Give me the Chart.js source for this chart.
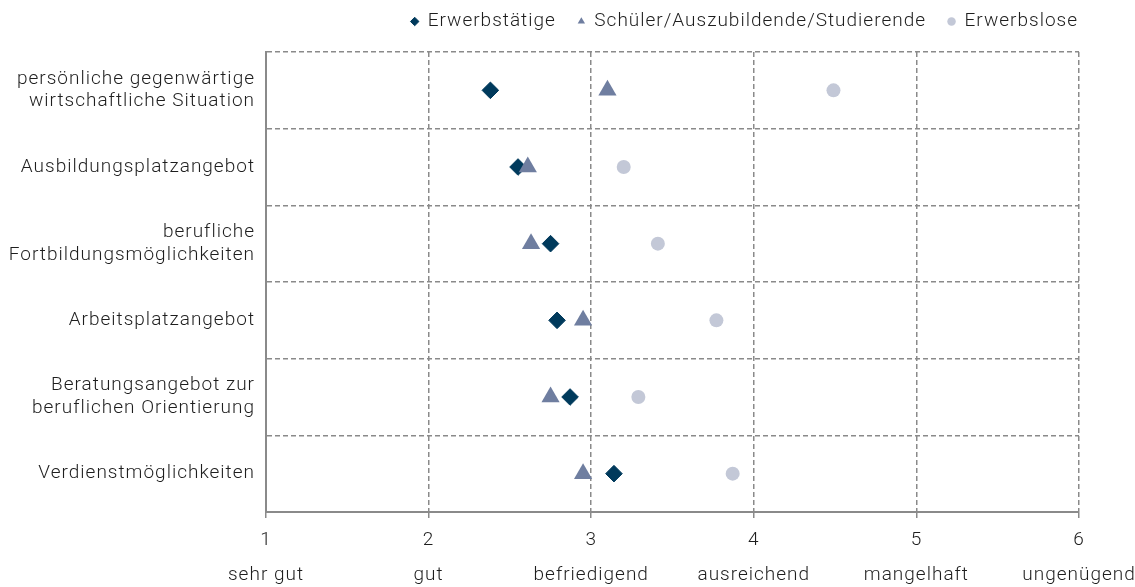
<!DOCTYPE html>
<html lang="de">
<head>
<meta charset="utf-8">
<title>Bewertung nach Erwerbsstatus</title>
<script src="https://cdn.jsdelivr.net/npm/chart.js@4/dist/chart.umd.min.js"></script>
<style>
  html, body { margin: 0; padding: 0; background: #fff; }
  #wrap { width: 1135px; height: 587px; position: relative; }
</style>
</head>
<body>
<div id="wrap"><canvas id="gradeChart"></canvas></div>
<script>
// Kategorien (y-Achse), mehrzeilige Beschriftungen als Arrays
const categories = [
  ['persönliche gegenwärtige', 'wirtschaftliche Situation'],
  'Ausbildungsplatzangebot',
  ['berufliche', 'Fortbildungsmöglichkeiten'],
  'Arbeitsplatzangebot',
  ['Beratungsangebot zur', 'beruflichen Orientierung'],
  'Verdienstmöglichkeiten'
];

// Durchschnittsnoten je Gruppe
const erwerbstaetige = [2.38, 2.55, 2.75, 2.79, 2.87, 3.14];
const schueler = [3.10, 2.61, 2.63, 2.95, 2.75, 2.95];
const erwerbslose = [4.49, 3.20, 3.41, 3.77, 3.29, 3.87];

// Notenskala (x-Achse)
const gradeValues = [1, 2, 3, 4, 5, 6];
const gradeNames = ['sehr gut', 'gut', 'befriedigend', 'ausreichend', 'mangelhaft', 'ungenügend'];

const textColor = '#1e1e1e';
const gridColor = '#8a8a8a';
const fontFamily = 'Roboto, "Liberation Sans", Arial, sans-serif';

Chart.defaults.font.family = fontFamily;
Chart.defaults.font.weight = 300;
Chart.defaults.color = textColor;

// wider text spacing, closer to the original typeface
const spacedText = {
  id: 'spacedText',
  beforeUpdate(chart) { chart.ctx.letterSpacing = '1px'; },
  beforeLayout(chart) { chart.ctx.letterSpacing = '1px'; },
  beforeDraw(chart) { chart.ctx.letterSpacing = '1px'; }
};

// legend gets a fixed height so the plot starts where the original does
const legendBox = {
  id: 'legendBox',
  beforeInit(chart) {
    const origFit = chart.legend.fit;
    chart.legend.fit = function () {
      origFit.bind(chart.legend)();
      this.height = 62;
    };
  },
  afterLayout(chart) {
    // let the legend row end at the right edge of the plot
    chart.legend.right += 21;
    chart.legend.width += 21;
  }
};

const ctx = document.getElementById('gradeChart');
new Chart(ctx, {
  type: 'line',
  data: {
    labels: categories,
    datasets: [
      {
        label: 'Erwerbstätige',
        data: erwerbstaetige,
        showLine: false,
        pointStyle: 'rectRot',
        pointRadius: 8.3,
        pointHoverRadius: 8.3,
        backgroundColor: '#003a5c',
        borderColor: '#003a5c',
        pointBorderWidth: 1,
        borderWidth: 1,
        order: 2
      },
      {
        label: 'Schüler/Auszubildende/Studierende',
        data: schueler,
        showLine: false,
        pointStyle: 'triangle',
        pointRadius: 10.5,
        pointHoverRadius: 10.5,
        backgroundColor: '#6f7ea0',
        borderColor: '#6f7ea0',
        pointBorderWidth: 0,
        borderWidth: 1,
        order: 1
      },
      {
        label: 'Erwerbslose',
        data: erwerbslose,
        showLine: false,
        pointStyle: 'circle',
        pointRadius: 7,
        pointHoverRadius: 7,
        backgroundColor: '#c3c8d7',
        borderColor: '#c3c8d7',
        pointBorderWidth: 0,
        borderWidth: 1,
        order: 0
      }
    ]
  },
  options: {
    indexAxis: 'y',
    responsive: true,
    maintainAspectRatio: false,
    animation: false,
    layout: { padding: { top: -10, right: 56, bottom: 0, left: 0 } },
    plugins: {
      legend: {
        position: 'top',
        align: 'end',
        labels: {
          usePointStyle: true,
          boxWidth: 7,
          boxHeight: 6,
          padding: 22,
          color: textColor,
          font: { size: 19, weight: 300 },
          sort: (a, b) => a.datasetIndex - b.datasetIndex
        }
      },
      tooltip: { enabled: false }
    },
    scales: {
      x: {
        type: 'linear',
        min: 1,
        max: 6,
        afterBuildTicks(scale) {
          scale.ticks = gradeValues.map(v => ({ value: v }));
        },
        afterFit(scale) {
          scale.height = 75;
          // the outer labels may hang over the edges, as in the original
          scale.paddingLeft = 0;
          scale.paddingRight = 0;
        },
        grid: {
          color: gridColor,
          lineWidth: 1.5,
          drawTicks: true,
          tickLength: 6,
          tickColor: gridColor,
          tickWidth: 1.5
        },
        border: { display: true, color: gridColor, width: 2, dash: [5, 3] },
        ticks: {
          padding: 5,
          maxRotation: 0,
          autoSkip: false,
          color: textColor,
          font: { size: 19, weight: 300, lineHeight: 1.85 },
          callback: (value) => [String(value), gradeNames[gradeValues.indexOf(value)]]
        }
      },
      y: {
        type: 'category',
        offset: true,
        afterFit(scale) { scale.width = 266; },
        grid: {
          offset: true,
          color: gridColor,
          lineWidth: 1.5,
          drawTicks: false
        },
        border: { display: true, color: gridColor, width: 2, dash: [5, 3] },
        ticks: {
          padding: 11,
          color: textColor,
          font: { size: 19, weight: 300, lineHeight: 1.2 }
        }
      }
    }
  },
  plugins: [spacedText, legendBox]
});
</script>
</body>
</html>
